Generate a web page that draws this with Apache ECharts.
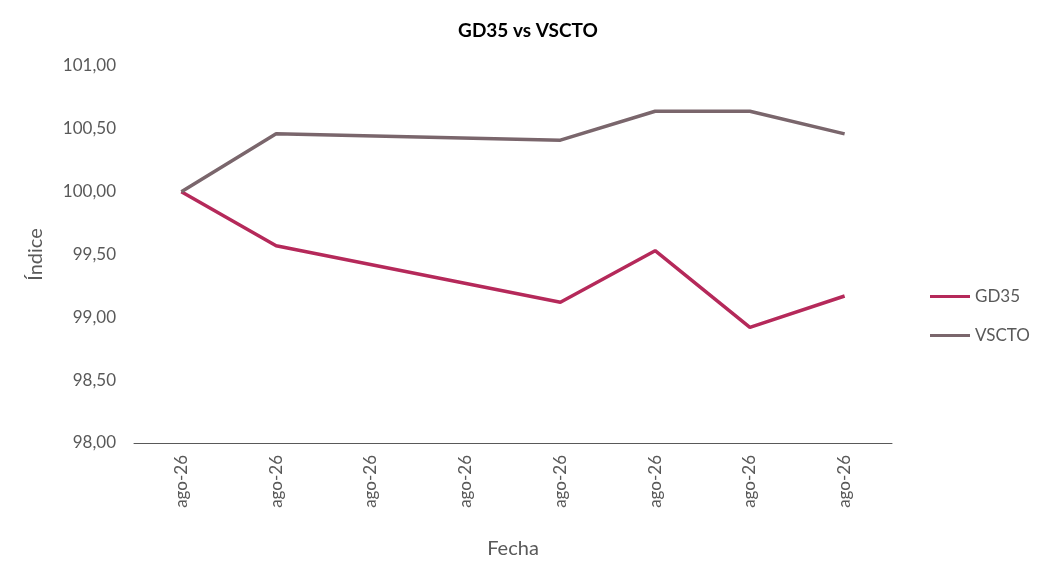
<!DOCTYPE html>
<html><head><meta charset="utf-8">
<script src="https://cdn.jsdelivr.net/npm/echarts@6/dist/echarts.min.js"></script>
</head><body style="margin:0">
<div id="c" style="width:1056px;height:578px"></div>
<script>
var categories = ["ago-26","ago-26","ago-26","ago-26","ago-26","ago-26","ago-26","ago-26"];
var gd35 = [100.00, 99.57, null, null, 99.12, 99.53, 98.92, 99.17];
var vscto = [100.00, 100.46, null, null, 100.41, 100.64, 100.64, 100.46];
var yTicks = {min: 98, max: 101, interval: 0.5};
var font = "Lato";
var chart = echarts.init(document.getElementById('c'));
chart.setOption({
  title: {text: 'GD35 vs VSCTO', left: 'center', top: 16, textStyle: {fontFamily: font, fontSize: 19, fontWeight: 'bold', color: '#000'}},
  legend: {orient: 'vertical', left: 925, top: 283, itemGap: 22, itemWidth: 40, itemHeight: 3, icon: 'rect',
    textStyle: {fontFamily: font, fontSize: 17, color: '#595959'}},
  grid: {left: 134, right: 164, top: 66, bottom: 135},
  xAxis: {type: 'category', data: categories, boundaryGap: true, name: 'Fecha', nameLocation: 'middle', nameGap: 96,
    nameTextStyle: {fontFamily: font, fontSize: 20, color: '#595959'},
    axisLine: {lineStyle: {color: '#595959'}}, axisTick: {show: false},
    axisLabel: {rotate: 90, fontFamily: font, fontSize: 17, color: '#595959', margin: 12}},
  yAxis: {type: 'value', min: yTicks.min, max: yTicks.max, interval: yTicks.interval, name: 'Índice', nameLocation: 'middle', nameGap: 88,
    nameTextStyle: {fontFamily: font, fontSize: 20, color: '#595959'},
    axisLine: {show: false}, axisTick: {show: false}, splitLine: {show: false},
    axisLabel: {fontFamily: font, fontSize: 17, color: '#595959', margin: 18, formatter: function(v){return v.toFixed(2).replace('.', ',');}}},
  series: [
    {name: 'GD35', type: 'line', data: gd35, connectNulls: true, symbol: 'none', lineStyle: {width: 3.5, color: '#b5295a'}, itemStyle: {color: '#b5295a'}},
    {name: 'VSCTO', type: 'line', data: vscto, connectNulls: true, symbol: 'none', lineStyle: {width: 3.5, color: '#7a666c'}, itemStyle: {color: '#7a666c'}}
  ]
});
</script></body></html>
